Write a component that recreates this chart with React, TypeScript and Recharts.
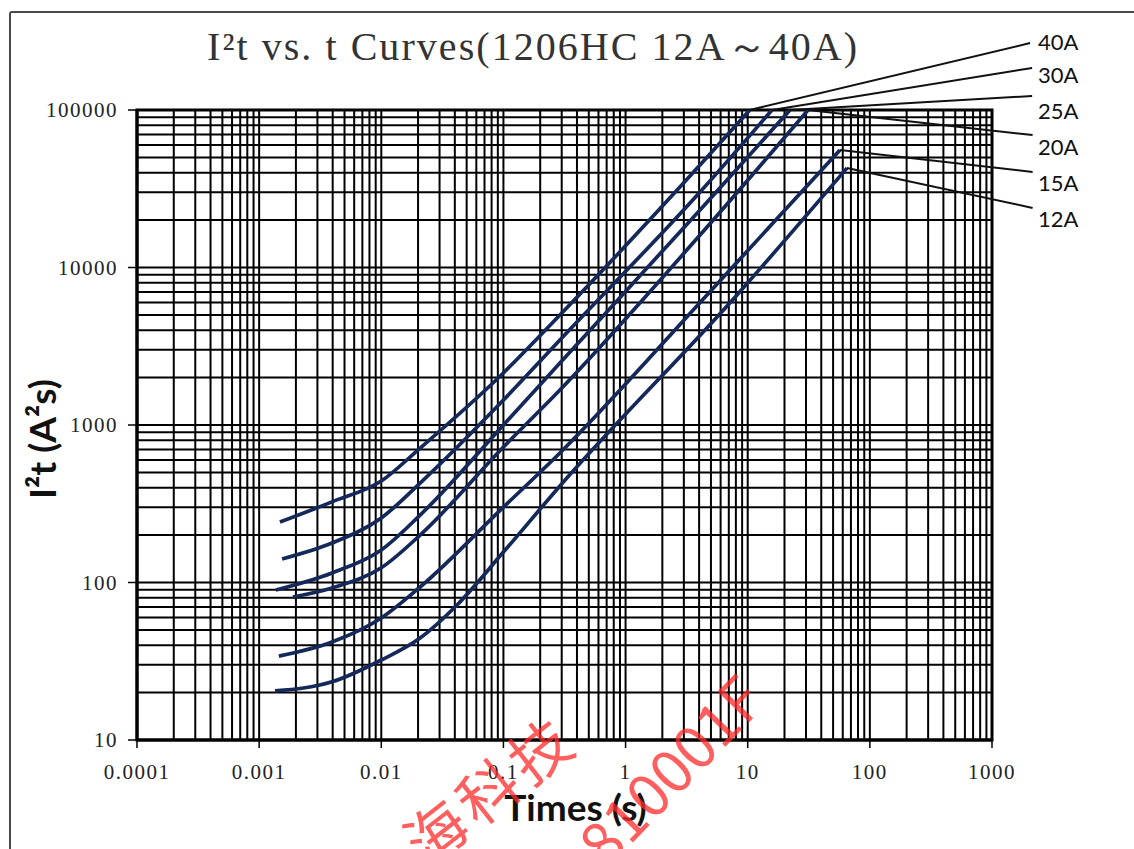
import React from 'react';
import { LineChart, Line, XAxis, YAxis, CartesianGrid, ReferenceArea, ReferenceLine, ReferenceDot, Label } from 'recharts';

// fuse ratings, one curve each
const currents = ['40A', '30A', '25A', '20A', '15A', '12A'];

// time (s) and I2t (A2s)
const t40 = [0.00148, 0.00395, 0.01, 0.0208, 0.1, 0.29, 4.07, 10.4];
const i40 = [242, 325, 441, 714, 2140, 4990, 44700, 100000];
const t30 = [0.00154, 0.00395, 0.01, 0.0208, 0.1, 0.29, 4.07, 15.8];
const i30 = [141, 178, 257, 428, 1440, 3465, 30160, 100000];
const t25 = [0.00137, 0.00395, 0.01, 0.0208, 0.1, 0.29, 4.07, 22.2];
const i25 = [89.6, 115, 161, 268, 1000, 2476, 23180, 100000];
const t20 = [0.00189, 0.00395, 0.01, 0.0208, 0.1, 0.29, 4.07, 31.2];
const i20 = [80.9, 92.3, 124, 200, 725, 1668, 16080, 100000];
const t15 = [0.00145, 0.00395, 0.01, 0.0208, 0.1, 0.29, 4.64, 57];
const i15 = [34.1, 41.9, 59.5, 93.6, 301, 664, 6690, 55700];
const t12 = [0.00135, 0.00395, 0.01, 0.0208, 0.0417, 0.1, 0.29, 8.17, 65];
const i12 = [20.5, 23.4, 32.2, 44.4, 72, 156, 410, 6690, 42800];

// where the leader lines end and where the rating labels sit (data space, outside the plot)
const leaderT = [2050, 2130, 2130, 2150, 2150, 2150];
const leaderI = [266000, 184800, 122700, 69300, 40400, 23900];
const labelT = 2380;
const labelI = [270000, 166800, 98500, 58200, 34400, 20300];

const xTicks = [0.0001, 0.001, 0.01, 0.1, 1, 10, 100, 1000];
const xTickLabels = ['0.0001', '0.001', '0.01', '0.1', '1', '10', '100', '1000'];
const yTicks = [10, 100, 1000, 10000, 100000];
const yTickLabels = ['10', '100', '1000', '10000', '100000'];

const pairs = (t: number[], v: number[]) => t.map((x, k) => ({ t: x, i: v[k] }));
const series = [pairs(t40, i40), pairs(t30, i30), pairs(t25, i25), pairs(t20, i20), pairs(t15, i15), pairs(t12, i12)];

// log paper: a line at every 1..9 of each decade
const minors = (ticks: number[]) => {
  const out: number[] = [];
  for (let k = 0; k < ticks.length - 1; k++) for (let m = 1; m < 10; m++) out.push(ticks[k] * m);
  out.push(ticks[ticks.length - 1]);
  return out;
};
const xGrid = minors(xTicks);
const yGrid = minors(yTicks);

const CURVE = '#15285a';
const tickFont = { fontSize: 21, fontFamily: 'Liberation Serif', fill: '#222', style: { letterSpacing: '1.5px' } };

export default function App() {
  return (
    <div style={{ position: 'absolute', left: 0, top: 0, width: 1134, height: 849, overflow: 'hidden', background: '#fff' }}>
      <div style={{ position: 'absolute', left: 9, top: 11, width: 1200, height: 900, borderLeft: '2px solid #4a4a4a', borderTop: '2px solid #4a4a4a', borderTopLeftRadius: 3 }} />
      <div style={{ position: 'absolute', left: 0, top: 0 }}>
        <LineChart width={1134} height={849} margin={{ top: 110, right: 142, bottom: 49, left: 37 }}>
          <CartesianGrid stroke="#000" strokeWidth={2} verticalValues={xGrid} horizontalValues={yGrid} />
          <XAxis
            type="number"
            dataKey="t"
            scale="log"
            domain={[0.0001, 1000]}
            allowDataOverflow
            ticks={xTicks}
            interval={0}
            height={60}
            tickSize={8}
            tickMargin={16}
            axisLine={{ stroke: '#000', strokeWidth: 3 }}
            tickLine={{ stroke: '#000', strokeWidth: 1.5 }}
            tick={tickFont}
            tickFormatter={(v) => xTickLabels[xTicks.indexOf(v)] ?? ''}
          >
            <Label
              content={(p: any) => (
                <text x={p.viewBox.x + p.viewBox.width / 2 + 11} y={p.viewBox.y + 81} textAnchor="middle" fontFamily="Lato" fontWeight="bold" fontSize={37} fill="#111">
                  Times (s)
                </text>
              )}
            />
          </XAxis>
          <YAxis
            type="number"
            scale="log"
            domain={[10, 100000]}
            allowDataOverflow
            ticks={yTicks}
            interval={0}
            width={100}
            tickSize={9}
            tickMargin={10}
            axisLine={{ stroke: '#000', strokeWidth: 3 }}
            tickLine={{ stroke: '#000', strokeWidth: 1.5 }}
            tick={tickFont}
            tickFormatter={(v) => yTickLabels[yTicks.indexOf(v)] ?? ''}
          >
            <Label
              content={(p: any) => {
                const x = p.viewBox.x + 19;
                const y = p.viewBox.y + 329;
                return (
                  <text x={x} y={y} transform={`rotate(-90 ${x} ${y})`} textAnchor="middle" fontFamily="Lato" fontWeight="bold" fontSize={37} fill="#111">
                    I²t (A²s)
                  </text>
                );
              }}
            />
          </YAxis>
          <ReferenceArea x1={0.0001} x2={1000} y1={10} y2={100000} fill="none" stroke="#000" strokeWidth={3} />
          {series.map((d, k) => (
            <Line key={currents[k]} data={d} dataKey="i" name={currents[k]} type="monotone" stroke={CURVE} strokeWidth={3.7} dot={false} isAnimationActive={false} />
          ))}
          {series.map((d, k) => (
            <ReferenceLine
              key={'l' + currents[k]}
              segment={[{ x: d[d.length - 1].t, y: d[d.length - 1].i }, { x: leaderT[k], y: leaderI[k] }]}
              ifOverflow="visible"
              stroke="#111"
              strokeWidth={2}
            />
          ))}
          {currents.map((c, k) => (
            <ReferenceDot
              key={'d' + c}
              x={labelT}
              y={labelI[k]}
              r={0}
              ifOverflow="visible"
              fill="none"
              stroke="none"
              label={{ value: c, position: 'right', offset: 0, fill: '#111', fontSize: 22, fontFamily: 'Lato' }}
            />
          ))}
        </LineChart>
      </div>
      <svg width={1134} height={849} style={{ position: 'absolute', left: 0, top: 0, pointerEvents: 'none' }}>
        <text x={207} y={60} fontFamily="Liberation Serif" fontSize={40} textLength={650} lengthAdjust="spacing" fill="#333">
          I²t vs. t Curves(1206HC 12A～40A)
        </text>
        <g opacity={0.75} fill="#ff2a2a" fontFamily="Noto Sans CJK SC" fontSize={60}>
          <text x={488} y={787} textAnchor="middle" dominantBaseline="central" letterSpacing={6} transform="rotate(-38 488 787)">
            海科技
          </text>
          <text x={668} y={768} textAnchor="middle" dominantBaseline="central" transform="rotate(-46 668 768)">
            810001F
          </text>
        </g>
      </svg>
    </div>
  );
}
